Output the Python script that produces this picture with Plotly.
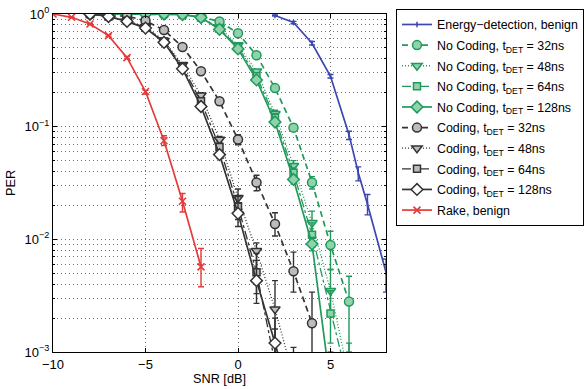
import plotly.graph_objects as go

# ---------------- data ----------------
snr_rake = [-10, -9, -8, -7, -6, -5, -4, -3, -2]
per_rake = [1.0, 0.935, 0.816, 0.643, 0.41, 0.205, 0.075, 0.0218, 0.0057]
rake_hi = [1.0, 0.94, 0.825, 0.655, 0.42, 0.21, 0.083, 0.0255, 0.0083]
rake_lo = [1.0, 0.93, 0.805, 0.63, 0.40, 0.195, 0.068, 0.0175, 0.0038]

snr_ed = [2, 3, 4, 5, 6, 6.5, 7, 8]
per_ed = [0.97, 0.84, 0.55, 0.28, 0.085, 0.039, 0.0205, 0.0051]
ed_hi = [0.98, 0.86, 0.57, 0.29, 0.091, 0.044, 0.025, 0.0067]
ed_lo = [0.96, 0.82, 0.53, 0.27, 0.077, 0.033, 0.0165, 0.0034]

snr_nc = [-8, -7, -6, -5, -4, -3, -2, -1, 0, 1, 2, 3, 4, 5, 6]
nc32 = [1, 1, 1, 1, 1, 0.99, 0.94, 0.86, 0.675, 0.43, 0.22, 0.098, 0.032, 0.0089, 0.0028]
nc32_hi = [1, 1, 1, 1, 1, 1.0, 0.96, 0.88, 0.70, 0.45, 0.23, 0.105, 0.036, 0.0118, 0.0047]
nc32_lo = [1, 1, 1, 1, 1, 0.98, 0.92, 0.84, 0.65, 0.41, 0.21, 0.092, 0.028, 0.0054, 0.0008]
nc48 = [1, 1, 1, 1, 1, 0.99, 0.93, 0.76, 0.53, 0.31, 0.13, 0.045, 0.014, 0.0035, 0.0006]
nc48_hi = [1, 1, 1, 1, 1, 1.0, 0.95, 0.78, 0.55, 0.32, 0.14, 0.05, 0.0178, 0.0054, 0.0012]
nc48_lo = [1, 1, 1, 1, 1, 0.98, 0.91, 0.74, 0.51, 0.30, 0.12, 0.040, 0.011, 0.0022, 0.0003]
nc64 = [1, 1, 1, 1, 1, 0.99, 0.93, 0.74, 0.51, 0.28, 0.12, 0.039, 0.011, 0.0022, 0.0005]
nc64_hi = [1, 1, 1, 1, 1, 1.0, 0.95, 0.76, 0.53, 0.29, 0.13, 0.043, 0.014, 0.0035, 0.001]
nc64_lo = [1, 1, 1, 1, 1, 0.98, 0.91, 0.72, 0.49, 0.27, 0.11, 0.035, 0.0085, 0.0012, 0.0002]
nc128 = [1, 1, 1, 1, 1, 0.99, 0.93, 0.73, 0.49, 0.26, 0.11, 0.034, 0.0091, 0.0005, None]
nc128_hi = [1, 1, 1, 1, 1, 1.0, 0.95, 0.75, 0.51, 0.27, 0.115, 0.037, 0.0104, 0.001, None]
nc128_lo = [1, 1, 1, 1, 1, 0.98, 0.91, 0.71, 0.47, 0.25, 0.105, 0.031, 0.0079, 0.0002, None]

snr_c = [-8, -7, -6, -5, -4, -3, -2, -1, 0, 1, 2, 3, 4]
c32 = [1, 0.96, 0.96, 0.87, 0.72, 0.51, 0.31, 0.168, 0.077, 0.032, 0.0137, 0.0052, 0.0018]
c32_hi = [1, 0.97, 0.97, 0.89, 0.74, 0.53, 0.325, 0.18, 0.085, 0.037, 0.0172, 0.0077, 0.0034]
c32_lo = [1, 0.95, 0.95, 0.85, 0.70, 0.49, 0.295, 0.156, 0.069, 0.027, 0.0107, 0.0034, 0.0005]
c48 = [1, 0.95, 0.87, 0.77, 0.58, 0.355, 0.19, 0.077, 0.0234, 0.0079, 0.0024, 0.0006, None]
c48_hi = [1, 0.96, 0.88, 0.78, 0.60, 0.37, 0.20, 0.082, 0.028, 0.0093, 0.0043, 0.0011, None]
c48_lo = [1, 0.94, 0.86, 0.76, 0.56, 0.34, 0.18, 0.072, 0.018, 0.0055, 0.0008, 0.0002, None]
c64 = [1, 0.95, 0.87, 0.76, 0.57, 0.34, 0.168, 0.066, 0.0197, 0.0051, 0.0008, None, None]
c64_hi = [1, 0.96, 0.88, 0.77, 0.59, 0.355, 0.178, 0.071, 0.024, 0.0075, 0.0016, None, None]
c64_lo = [1, 0.94, 0.86, 0.75, 0.55, 0.325, 0.158, 0.061, 0.015, 0.0033, 0.0003, None, None]
c128 = [1, 0.95, 0.86, 0.75, 0.56, 0.326, 0.151, 0.0565, 0.017, 0.0043, 0.0012, 0.0003, None]
c128_hi = [1, 0.96, 0.87, 0.76, 0.58, 0.34, 0.16, 0.061, 0.021, 0.0065, 0.002, 0.0006, None]
c128_lo = [1, 0.94, 0.85, 0.74, 0.54, 0.31, 0.142, 0.052, 0.013, 0.0027, 0.0006, 0.0001, None]

x_ticks = [-10, -5, 0, 5]
x_ticktext = ["\u221210", "\u22125", "0", "5"]
y_ticks = [1e-3, 1e-2, 1e-1, 1]
y_ticktext = ["10<sup>\u22123</sup>", "10<sup>\u22122</sup>", "10<sup>\u22121</sup>", "10<sup>0</sup>"]
y_minor = [m * d for d in (1e-3, 1e-2, 1e-1) for m in range(2, 10)]

# ---------------- styles ----------------
BLUE = "#3b47b3"
GREEN = "#22995c"
GREEN_FILL = "#8fd3ab"
DARK = "#333333"
DARK_FILL = "#bcbcbc"
RED = "#e23b3b"
FONT = "Liberation Sans, Arial, Helvetica, sans-serif"
GRID = "#6f6f6f"
GRIDDASH = "1px,3px"


def errs(vals, hi, lo):
    plus = [(h - v) if v is not None else None for v, h in zip(vals, hi)]
    minus = [(v - l) if v is not None else None for v, l in zip(vals, lo)]
    return plus, minus


def add(fig, x, y, hi, lo, name, color, fill, dash, symbol, msize=8, mline=1.5, lw=1.7):
    plus, minus = errs(y, hi, lo)
    fig.add_trace(go.Scatter(
        x=x, y=y, name=name, mode="lines+markers",
        legendgroup="g%d" % len(fig.data),
        line=dict(color=color, width=lw, dash=dash),
        marker=dict(symbol=symbol, size=msize, color=fill,
                    line=dict(color=color, width=mline)),
        error_y=dict(type="data", array=plus, arrayminus=minus, symmetric=False,
                     color=color, thickness=1.4, width=3),
        connectgaps=False,
    ))


fig = go.Figure()
add(fig, snr_ed, per_ed, ed_hi, ed_lo, "Energy\u2212detection, benign", BLUE, BLUE, "solid",
    "line-ns", msize=4, mline=1.5)
add(fig, snr_nc, nc32, nc32_hi, nc32_lo, "No Coding, t<sub>DET</sub> = 32ns", GREEN, GREEN_FILL, "6px,4px", "circle", msize=9)
add(fig, snr_nc, nc48, nc48_hi, nc48_lo, "No Coding, t<sub>DET</sub> = 48ns", GREEN, GREEN_FILL, "1px,2px", "triangle-down", msize=9, lw=1.3)
add(fig, snr_nc, nc64, nc64_hi, nc64_lo, "No Coding, t<sub>DET</sub> = 64ns", GREEN, GREEN_FILL, "dashdot", "square", msize=7, lw=1.3)
add(fig, snr_nc, nc128, nc128_hi, nc128_lo, "No Coding, t<sub>DET</sub> = 128ns", GREEN, GREEN_FILL, "solid", "diamond", msize=9)
add(fig, snr_c, c32, c32_hi, c32_lo, "Coding, t<sub>DET</sub> = 32ns", DARK, DARK_FILL, "6px,4px", "circle", msize=9)
add(fig, snr_c, c48, c48_hi, c48_lo, "Coding, t<sub>DET</sub> = 48ns", DARK, DARK_FILL, "1px,2px", "triangle-down", msize=9, lw=1.3)
add(fig, snr_c, c64, c64_hi, c64_lo, "Coding, t<sub>DET</sub> = 64ns", DARK, DARK_FILL, "dashdot", "square", msize=7, lw=1.3)
add(fig, snr_c, c128, c128_hi, c128_lo, "Coding, t<sub>DET</sub> = 128ns", DARK, "white", "solid", "diamond", msize=9)
add(fig, snr_rake, per_rake, rake_hi, rake_lo, "Rake, benign", RED, RED, "solid", "x-thin", msize=7, mline=1.6)

fig.update_layout(
    width=586, height=389,
    margin=dict(l=53, r=200, t=14, b=37, autoexpand=False),
    paper_bgcolor="white", plot_bgcolor="white",
    font=dict(family=FONT, size=13, color="black"),
    showlegend=True,
    legend=dict(x=1.03, y=1.015, xanchor="left", yanchor="top",
                bgcolor="white", bordercolor="black", borderwidth=1,
                font=dict(family=FONT, size=12.4, color="black"),
                traceorder="grouped", tracegroupgap=1.5, itemwidth=30,
                maxheight=380),
    xaxis=dict(range=[-10, 8], tickmode="array", tickvals=x_ticks, ticktext=x_ticktext,
               showgrid=True, gridcolor=GRID, griddash=GRIDDASH, gridwidth=1,
               ticks="inside", ticklen=4, tickcolor="black",
               showline=True, linecolor="black", linewidth=1, mirror="ticks",
               zeroline=False, automargin=False,
               tickfont=dict(size=13),
               title=dict(text="SNR [dB]", standoff=2, font=dict(size=12.7))),
    yaxis=dict(type="log", range=[-3, 0], tickmode="array", tickvals=y_ticks, ticktext=y_ticktext,
               showgrid=True, gridcolor=GRID, griddash=GRIDDASH, gridwidth=1,
               ticks="inside", ticklen=4, tickcolor="black",
               minor=dict(tickmode="array", tickvals=y_minor, showgrid=True,
                          gridcolor=GRID, griddash=GRIDDASH, gridwidth=1,
                          ticks="inside", ticklen=2, tickcolor="black"),
               showline=True, linecolor="black", linewidth=1, mirror="ticks",
               zeroline=False, automargin=False,
               tickfont=dict(size=13),
               title=dict(text="PER", standoff=6, font=dict(size=12.7))),
)

fig.write_html("out.html", config={"displayModeBar": False},
               post_script="document.body.style.margin='0';document.body.style.overflow='hidden';")
